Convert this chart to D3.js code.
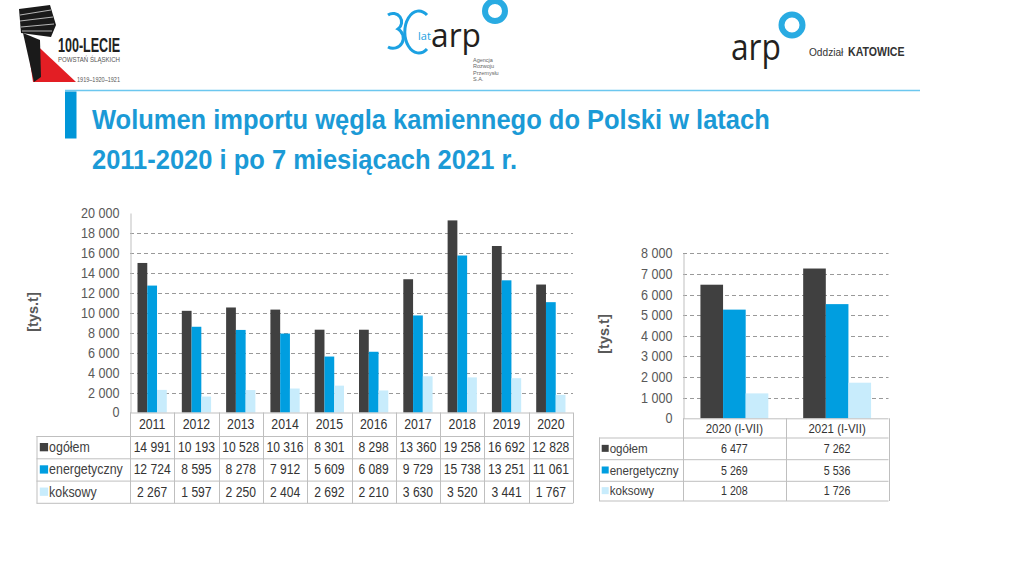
<!DOCTYPE html>
<html>
<head>
<meta charset="utf-8">
<script src="https://cdn.jsdelivr.net/npm/d3@7"></script>
<style>
  body { margin: 0; background: #fff; }
  svg { display: block; font-family: "Liberation Sans", Arial, sans-serif; }
</style>
</head>
<body>
<svg id="chart" width="1024" height="576"></svg>
<script>
// yearly data (tys. t)
const years = ['2011', '2012', '2013', '2014', '2015', '2016', '2017', '2018', '2019', '2020'];
const ogolem = [14991, 10193, 10528, 10316, 8301, 8298, 13360, 19258, 16692, 12828];
const energetyczny = [12724, 8595, 8278, 7912, 5609, 6089, 9729, 15738, 13251, 11061];
const koksowy = [2267, 1597, 2250, 2404, 2692, 2210, 3630, 3520, 3441, 1767];

// 7 months data
const periods = ['2020 (I-VII)', '2021 (I-VII)'];
const ogolem7 = [6477, 7262];
const energetyczny7 = [5269, 5536];
const koksowy7 = [1208, 1726];

const seriesNames = ['ogółem', 'energetyczny', 'koksowy'];
const seriesColors = ['#404040', '#009ee0', '#c8ecfc'];
const ticksYears = [0, 2000, 4000, 6000, 8000, 10000, 12000, 14000, 16000, 18000, 20000];
const ticksPeriods = [0, 1000, 2000, 3000, 4000, 5000, 6000, 7000, 8000];

const titleLines = ['Wolumen importu węgla kamiennego do Polski w latach', '2011-2020 i po 7 miesiącach 2021 r.'];
const unitLabel = '[tys.t]';

const svg = d3.select('#chart');
const fmt = d3.formatLocale({ decimal: ',', thousands: ' ', grouping: [3], currency: ['', ''] }).format(',d');

// no narrow font installed, so squeeze the text instead
function condense(sel, k) {
  sel.each(function () {
    const len = this.getComputedTextLength();
    d3.select(this).attr('textLength', len * k).attr('lengthAdjust', 'spacingAndGlyphs');
  });
}

// header: logos, line, title
const logoL = svg.append('g');
logoL.append('polygon').attr('points', '19,9 50,5 56,25 51,37 21,33').attr('fill', '#1a1a1a');
[[20, 15, 51, 10], [20, 21, 53, 17], [21, 27, 54, 24], [22, 31, 52, 31]].forEach(l => {
  logoL.append('line').attr('x1', l[0]).attr('y1', l[1]).attr('x2', l[2]).attr('y2', l[3])
    .attr('stroke', '#ddd').attr('stroke-width', 0.8);
});
logoL.append('polygon').attr('points', '26,35 76,82 33,82').attr('fill', '#e31e24');
logoL.append('polygon').attr('points', '23,33 40,40 41,77 34,82').attr('fill', '#1a1a1a');
logoL.append('text').attr('x', 58).attr('y', 52).attr('font-size', 20).attr('font-weight', 'bold')
  .attr('textLength', 62).attr('lengthAdjust', 'spacingAndGlyphs').attr('fill', '#222').text('100-LECIE');
logoL.append('text').attr('x', 58).attr('y', 62).attr('font-size', 6.5)
  .attr('textLength', 62).attr('lengthAdjust', 'spacingAndGlyphs').attr('fill', '#555').text('POWSTAŃ ŚLĄSKICH');
logoL.append('text').attr('x', 77).attr('y', 82).attr('font-size', 6.5)
  .attr('textLength', 43).attr('lengthAdjust', 'spacingAndGlyphs').attr('fill', '#555').text('1919–1920–1921');

const logoC = svg.append('g');
logoC.append('path').attr('d', 'M388,15 A8,8 0 1 1 398,29 A10,10 0 1 1 388,47')
  .attr('fill', 'none').attr('stroke', '#1ba1e2').attr('stroke-width', 3);
logoC.append('path').attr('d', 'M427,15 A14,21 0 1 0 427,49')
  .attr('fill', 'none').attr('stroke', '#1ba1e2').attr('stroke-width', 3);
logoC.append('text').attr('x', 418).attr('y', 40).attr('font-size', 11).attr('font-family', 'Open Sans')
  .attr('fill', '#1ba1e2').text('lat');
logoC.append('text').attr('x', 431).attr('y', 47).attr('font-size', 32).attr('font-family', 'Open Sans')
  .attr('textLength', 50).attr('lengthAdjust', 'spacingAndGlyphs').attr('fill', '#231f20').text('arp');
logoC.append('circle').attr('cx', 495).attr('cy', 11).attr('r', 10)
  .attr('fill', 'none').attr('stroke', '#29abe2').attr('stroke-width', 6);
['Agencja', 'Rozwoju', 'Przemysłu', 'S.A.'].forEach((t, i) => {
  logoC.append('text').attr('x', 473).attr('y', 62 + i * 6.3).attr('font-size', 5.5)
    .attr('fill', '#666').text(t);
});

const logoR = svg.append('g');
logoR.append('text').attr('x', 731).attr('y', 60).attr('font-size', 36).attr('font-family', 'Open Sans')
  .attr('textLength', 50).attr('lengthAdjust', 'spacingAndGlyphs').attr('fill', '#231f20').text('arp');
logoR.append('circle').attr('cx', 792).attr('cy', 25).attr('r', 10.5)
  .attr('fill', 'none').attr('stroke', '#29abe2').attr('stroke-width', 6);
logoR.append('text').attr('x', 809).attr('y', 56).attr('font-size', 11).attr('fill', '#333')
  .text('Oddział').call(condense, 0.92);
logoR.append('text').attr('x', 848).attr('y', 56).attr('font-size', 12).attr('font-weight', 'bold')
  .attr('fill', '#333').text('KATOWICE').call(condense, 0.88);

svg.append('line').attr('x1', 65).attr('x2', 920).attr('y1', 90.5).attr('y2', 90.5)
  .attr('stroke', '#6cc7ef').attr('stroke-width', 1.5);
svg.append('rect').attr('x', 65).attr('y', 91.5).attr('width', 11.5).attr('height', 47).attr('fill', '#0096d8');
titleLines.forEach((t, i) => {
  svg.append('text').attr('x', 92).attr('y', 128.5 + i * 40).attr('font-size', 28).attr('font-weight', 'bold')
    .attr('fill', '#1b9ad6').text(t)
    .call(condense, 0.91);
});

// chart with data table under it
function drawPanel(o) {
  const x = d3.scaleBand().domain(o.cats).range([o.x0, o.x1]);
  const inner = d3.scaleBand().domain(d3.range(o.series.length)).range([0, x.bandwidth()]).paddingOuter(0.77);
  const y = d3.scaleLinear().domain([0, d3.max(o.ticks)]).range([o.yBottom, o.yTop]);
  const g = svg.append('g');

  const grid = o.ticks.filter(t => t > 0 && (o.gridTop || t < d3.max(o.ticks)));
  g.selectAll('.grid').data(grid).enter().append('line')
    .attr('x1', o.x0).attr('x2', o.x1)
    .attr('y1', d => Math.round(y(d)) + 0.5).attr('y2', d => Math.round(y(d)) + 0.5)
    .attr('stroke', '#999').attr('stroke-dasharray', '4,3');

  o.series.forEach((vals, i) => {
    g.selectAll('.bar' + i).data(vals).enter().append('rect')
      .attr('x', (d, j) => x(o.cats[j]) + inner(i))
      .attr('y', d => y(d))
      .attr('width', inner.bandwidth())
      .attr('height', d => o.yBottom - y(d))
      .attr('fill', seriesColors[i]);
  });

  const ax = g.append('g').attr('transform', `translate(${o.x0 + 0.5},0)`)
    .call(d3.axisLeft(y).tickValues(o.ticks).tickFormat(fmt).tickSize(0).tickPadding(11));
  ax.select('.domain').attr('stroke', '#bfbfbf');
  ax.selectAll('text').attr('font-size', 14).attr('fill', '#595959')
    .attr('font-family', '"Liberation Sans", Arial, sans-serif')
    .call(condense, 0.9);

  g.append('text')
    .attr('transform', `translate(${o.labelX},${o.labelY}) rotate(-90)`)
    .attr('text-anchor', 'middle').attr('dy', '0.35em')
    .attr('font-size', 14.5).attr('font-weight', 'bold').attr('fill', '#595959')
    .text(unitLabel);

  // table grid
  const edges = [o.yBottom].concat(o.rowEdges);
  const last = edges[edges.length - 1];
  const border = '#bfbfbf';
  g.append('line').attr('x1', o.x0).attr('x2', o.x1).attr('y1', o.yBottom + 0.5).attr('y2', o.yBottom + 0.5).attr('stroke', border);
  o.rowEdges.forEach(e => {
    g.append('line').attr('x1', o.tableLeft).attr('x2', o.x1).attr('y1', e + 0.5).attr('y2', e + 0.5).attr('stroke', border);
  });
  o.cats.concat([null]).forEach(c => {
    const xx = Math.round(c === null ? o.x1 : x(c)) + 0.5;
    g.append('line').attr('x1', xx).attr('x2', xx).attr('y1', o.yBottom).attr('y2', last + 0.5).attr('stroke', border);
  });
  g.append('line').attr('x1', o.tableLeft + 0.5).attr('x2', o.tableLeft + 0.5)
    .attr('y1', o.rowEdges[0]).attr('y2', last + 0.5).attr('stroke', border);

  g.selectAll('.head').data(o.cats).enter().append('text')
    .attr('x', d => x(d) + x.bandwidth() / 2)
    .attr('y', (edges[0] + edges[1]) / 2).attr('dy', '0.36em')
    .attr('text-anchor', 'middle').attr('font-size', o.valueSize).attr('fill', '#333')
    .text(d => d)
    .call(condense, o.headK);

  o.series.forEach((vals, i) => {
    const cy = (edges[i + 1] + edges[i + 2]) / 2;
    g.append('rect').attr('x', o.tableLeft + o.sqOff).attr('y', cy - o.sq / 2)
      .attr('width', o.sq).attr('height', o.sq).attr('fill', seriesColors[i]);
    g.append('text').attr('x', o.tableLeft + o.sqOff + o.sq + 1).attr('y', cy).attr('dy', '0.36em')
      .attr('font-size', o.labelSize).attr('fill', '#404040').text(seriesNames[i])
      .call(condense, o.labelK);
    g.selectAll('.val' + i).data(vals).enter().append('text')
      .attr('x', (d, j) => x(o.cats[j]) + x.bandwidth() / 2)
      .attr('y', cy).attr('dy', '0.36em')
      .attr('text-anchor', 'middle').attr('font-size', o.valueSize).attr('fill', '#333')
      .text(d => fmt(d))
      .call(condense, o.valueK);
  });
}

drawPanel({
  cats: years, series: [ogolem, energetyczny, koksowy], ticks: ticksYears, gridTop: false,
  x0: 130, x1: 573, yTop: 213, yBottom: 412.5,
  tableLeft: 36.5, rowEdges: [436, 458.3, 480.6, 502.8],
  labelSize: 14, valueSize: 14, labelK: 0.885, valueK: 0.865, headK: 0.88,
  sq: 8.3, sqOff: 3.3,
  labelX: 33, labelY: 312
});

drawPanel({
  cats: periods, series: [ogolem7, energetyczny7, koksowy7], ticks: ticksPeriods, gridTop: true,
  x0: 683, x1: 888.5, yTop: 253.3, yBottom: 418.3,
  tableLeft: 599, rowEdges: [437.5, 459.2, 480.8, 500.5],
  labelSize: 13, valueSize: 13, labelK: 0.89, valueK: 0.82, headK: 0.88,
  sq: 7, sqOff: 2.7,
  labelX: 604, labelY: 334
});
</script>
</body>
</html>
